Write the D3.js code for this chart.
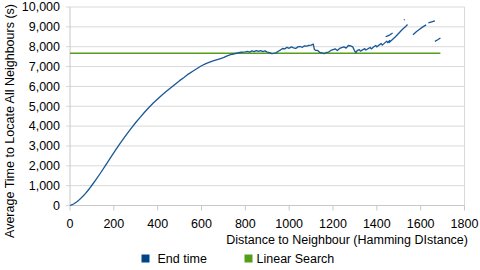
<!DOCTYPE html>
<html><head><meta charset="utf-8">
<script src="https://cdn.jsdelivr.net/npm/d3@7/dist/d3.min.js"></script>
<style>body{margin:0;background:#fff}svg{display:block}text{font-family:"Liberation Sans",Arial,sans-serif;fill:#000}</style>
</head><body><svg id="c" width="480" height="270"></svg>
<script>
// Blue series: distance (Hamming) vs end time (s); null = gap in the line
const distance = [0,10,20,30,40,50,60,70,80,90,100,120,140,160,180,200,220,240,260,280,300,320,340,360,380,400,420,440,460,480,500,520,540,560,580,600,620,640,660,680,700,720,740,760,780,800,
 810,820,830,840,850,860,870,880,890,900,910,920,930,940,950,960,970,980,990,1000,1010,1020,1030,1040,1050,1060,1070,1080,1090,1100,1110,
 1115,1120,1130,1140,1150,1160,1170,1180,1190,1200,1210,1220,1230,1240,1250,1260,1270,1280,1290,1300,1305,1310,1320,1325,1335,1345,1350,1360,1370,1375,1385,1395,1400,1410,1420,1425,1435,1445,1450,1460,
 1460,1455,1470,1485,1500,1515,1530,1540,
 1540,1440,1450,1460,1472,
 1472,1524,1527,
 1527,1565,1580,1595,1610,1625,
 1625,1635,1650,1665,
 1665,1665,1678,1690];
const endTime = [0,40,100,180,270,370,480,600,730,870,1020,1330,1650,1980,2320,2660,2990,3300,3610,3900,4180,4440,4700,4940,5160,5370,5570,5750,5930,6110,6290,6450,6620,6760,6900,7040,7150,7230,7310,7380,7450,7550,7620,7670,7720,7740,
 7760,7730,7790,7750,7800,7760,7800,7750,7790,7730,7700,7650,7660,7690,7770,7830,7910,7890,7970,7920,7990,7940,7910,7990,8010,7970,8040,8030,8070,8080,8130,
 7860,7820,7810,7710,7690,7650,7710,7730,7810,7850,7890,7810,7910,7950,7990,7930,8060,8040,7990,7760,7700,7800,7850,7780,7840,7900,7830,7900,7960,7890,7980,8060,7990,8080,8160,8080,8180,8280,8200,8330,
 null,8200,8350,8500,8680,8850,9000,9120,
 null,8500,8550,8600,8690,
 null,9340,9380,
 null,8600,8750,8880,9000,9100,
 null,9200,9250,9300,
 null,8270,8350,8440];
// Green series: linear search constant
const linearX = [0,1690];
const linearY = [7670,7670];
const xTicks = [0,200,400,600,800,1000,1200,1400,1600,1800];
const yTicks = [0,1000,2000,3000,4000,5000,6000,7000,8000,9000,10000];
const legendLabels = ["End time","Linear Search"];
const colors = ["#004586","#579d1c"];

const svg = d3.select("#c");
const L=70,R=464.5,T=7,B=205.5;
const x = d3.scaleLinear().domain([0,1800]).range([L,R]);
const y = d3.scaleLinear().domain([0,10000]).range([B,T]);
const fmt = d3.format(",");

// gridlines
svg.append("g").selectAll("line").data(yTicks).join("line")
 .attr("x1",L-4).attr("x2",R).attr("y1",d=>y(d)).attr("y2",d=>y(d))
 .attr("stroke","#d9d9d9").attr("stroke-width",1);
// axes lines
svg.append("line").attr("x1",L).attr("x2",L).attr("y1",T).attr("y2",B).attr("stroke","#c8c8c8");
svg.append("line").attr("x1",R).attr("x2",R).attr("y1",T).attr("y2",B).attr("stroke","#d9d9d9");
svg.append("line").attr("x1",L).attr("x2",R).attr("y1",B).attr("y2",B).attr("stroke","#c8c8c8");
svg.append("g").selectAll("line").data(xTicks).join("line")
 .attr("x1",d=>x(d)).attr("x2",d=>x(d)).attr("y1",B).attr("y2",B+5).attr("stroke","#c8c8c8");

// tick labels
svg.append("g").selectAll("text").data(yTicks).join("text")
 .attr("x",L-10).attr("y",d=>y(d)).attr("dy","0.35em").attr("text-anchor","end")
 .attr("font-size",12.5).text(d=>fmt(d));
svg.append("g").selectAll("text").data(xTicks).join("text")
 .attr("x",d=>x(d)).attr("y",227.5).attr("text-anchor","middle")
 .attr("font-size",12.5).text(d=>d);

// titles
svg.append("text").attr("x",468).attr("y",244).attr("text-anchor","end").attr("font-size",12.5)
 .text("Distance to Neighbour (Hamming DIstance)");
svg.append("text").attr("transform","translate(14,121) rotate(-90)").attr("text-anchor","middle").attr("font-size",12.5)
 .text("Average Time to Locate All Neighbours (s)");

// series
const pts = distance.map((d,i)=>[d,endTime[i]]);
svg.append("path").datum(linearX.map((d,i)=>[d,linearY[i]]))
 .attr("d",d3.line().x(d=>x(d[0])).y(d=>y(d[1])))
 .attr("fill","none").attr("stroke",colors[1]).attr("stroke-width",1.5);
svg.append("path").datum(pts)
 .attr("d",d3.line().defined(d=>d[1]!==null).x(d=>x(d[0])).y(d=>y(d[1])))
 .attr("fill","none").attr("stroke","#1a5796").attr("stroke-width",1.3).attr("stroke-linejoin","round");

// legend
const lx=[141.5,244.5];
const lg = svg.append("g").selectAll("g").data(legendLabels).join("g")
 .attr("transform",(d,i)=>`translate(${lx[i]},254.5)`);
lg.append("rect").attr("width",8).attr("height",8).attr("fill",(d,i)=>colors[i]);
lg.append("text").attr("x",(d,i)=>i?12:16).attr("y",4).attr("dy","0.35em").attr("font-size",12.5).text(d=>d);
</script></body></html>
